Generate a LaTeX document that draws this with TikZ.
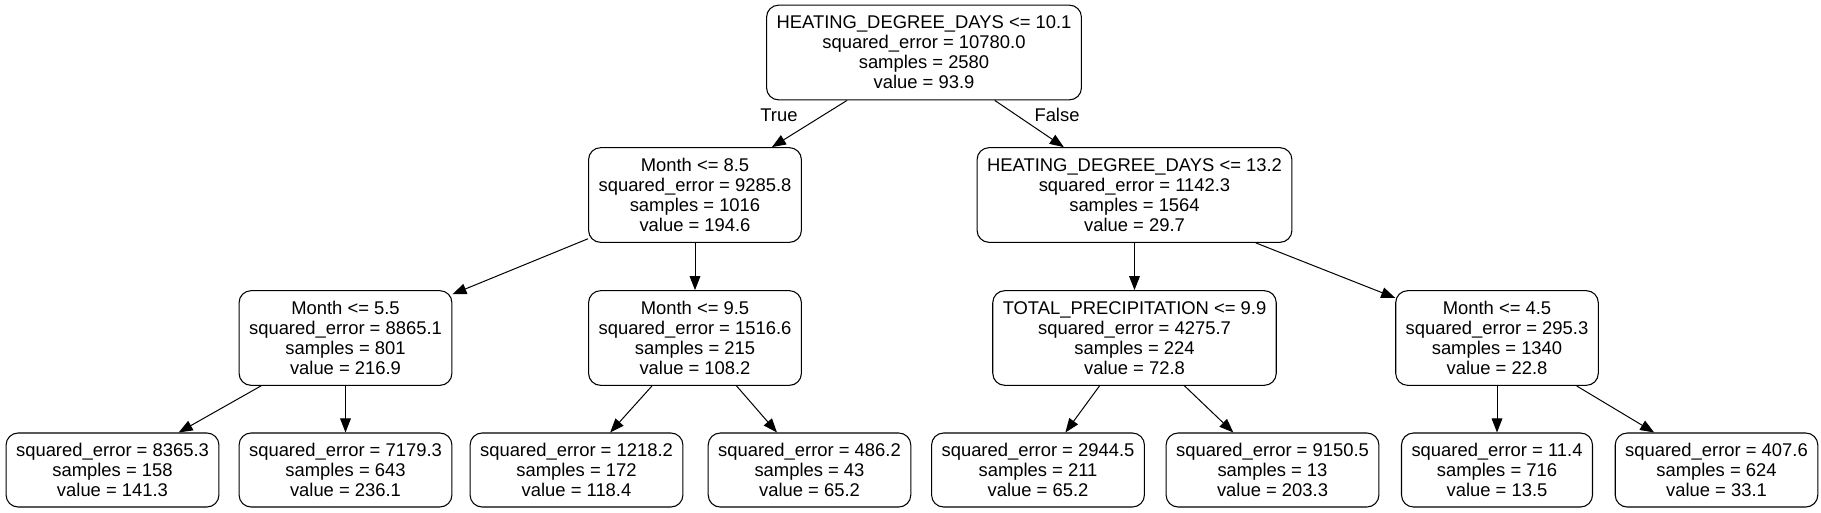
\documentclass[tikz,border=0pt]{standalone}
\usepackage{fontspec}
\setmainfont{Liberation Sans}
\usetikzlibrary{arrows.meta,positioning}

\begin{document}
\begin{tikzpicture}[
  x=0.75pt, y=-0.75pt,
  every node/.style={font=\fontsize{13.8}{15}\selectfont, align=center},
  split/.style={draw, line width=0.8pt, rounded corners=9pt, inner xsep=7.5pt, minimum height=71pt},
  leaf/.style={split, minimum height=55.5pt},
  branch/.style={-{Triangle[length=10.5pt,width=8pt]}, line width=0.75pt},
]

% ===== Canvas: 1821 x 512, y grows downwards =====
\useasboundingbox (0,0) rectangle (1821,512);

%% ---- ROOT ----
\node[split] (root) at (924,52.5)
  {HEATING\_DEGREE\_DAYS <= 10.1\\squared\_error = 10780.0\\samples = 2580\\value = 93.9};

%% ---- DEPTH 1 ----
\node[split] (m85) at (695,195)
  {Month <= 8.5\\squared\_error = 9285.8\\samples = 1016\\value = 194.6};
\node[split] (hdd132) at (1134.5,195)
  {HEATING\_DEGREE\_DAYS <= 13.2\\squared\_error = 1142.3\\samples = 1564\\value = 29.7};

%% ---- DEPTH 2 ----
\node[split] (m55) at (345.5,338)
  {Month <= 5.5\\squared\_error = 8865.1\\samples = 801\\value = 216.9};
\node[split] (m95) at (695,338)
  {Month <= 9.5\\squared\_error = 1516.6\\samples = 215\\value = 108.2};
\node[split] (prec99) at (1134.5,338)
  {TOTAL\_PRECIPITATION <= 9.9\\squared\_error = 4275.7\\samples = 224\\value = 72.8};
\node[split] (m45) at (1497,338)
  {Month <= 4.5\\squared\_error = 295.3\\samples = 1340\\value = 22.8};

%% ---- LEAVES ----
\node[leaf] (leafa) at (112.5,470)
  {squared\_error = 8365.3\\samples = 158\\value = 141.3};
\node[leaf] (leafb) at (345.5,470)
  {squared\_error = 7179.3\\samples = 643\\value = 236.1};
\node[leaf] (leafc) at (576.5,470)
  {squared\_error = 1218.2\\samples = 172\\value = 118.4};
\node[leaf] (leafd) at (809.5,470)
  {squared\_error = 486.2\\samples = 43\\value = 65.2};
\node[leaf] (leafe) at (1038,470)
  {squared\_error = 2944.5\\samples = 211\\value = 65.2};
\node[leaf] (leaff) at (1272.5,470)
  {squared\_error = 9150.5\\samples = 13\\value = 203.3};
\node[leaf] (leafg) at (1497,470)
  {squared\_error = 11.4\\samples = 716\\value = 13.5};
\node[leaf] (leafh) at (1716.5,470)
  {squared\_error = 407.6\\samples = 624\\value = 33.1};

%% ---- EDGES ----
\draw[branch] (root) -- (m85);
\draw[branch] (root) -- (hdd132);
\node (ltrue) at (779,115) {True};
\node (lfalse) at (1057,115) {False};

\draw[branch] (m85) -- (m55);
\draw[branch] (m85) -- (m95);
\draw[branch] (hdd132) -- (prec99);
\draw[branch] (hdd132) -- (m45);

\draw[branch] (m55) -- (leafa);
\draw[branch] (m55) -- (leafb);
\draw[branch] (m95) -- (leafc);
\draw[branch] (m95) -- (leafd);
\draw[branch] (prec99) -- (leafe);
\draw[branch] (prec99) -- (leaff);
\draw[branch] (m45) -- (leafg);
\draw[branch] (m45) -- (leafh);

\end{tikzpicture}
\end{document}
